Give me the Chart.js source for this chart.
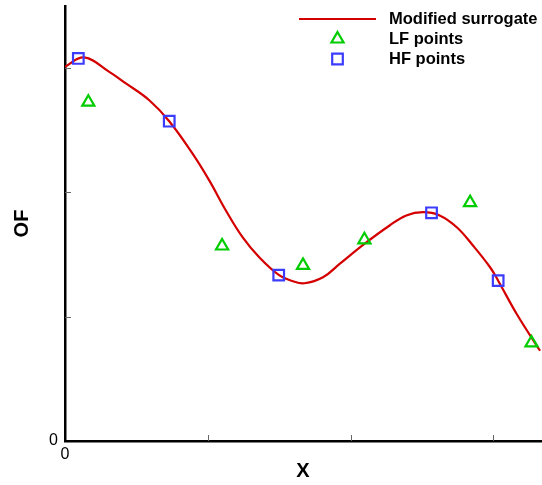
<!DOCTYPE html>
<html>
<head>
<meta charset="utf-8">
<script src="https://cdn.jsdelivr.net/npm/chart.js@4.4.1/dist/chart.umd.min.js"></script>
<style>
  html, body { margin: 0; padding: 0; background: #fff; }
  #chart { display: block; }
</style>
</head>
<body>
<canvas id="chart" width="542" height="485"></canvas>
<script>
// surrogate curve samples
const surrogateX = [0, 0.040, 0.093, 0.128, 0.177, 0.219, 0.268, 0.303, 0.338, 0.373, 0.408, 0.449, 0.479, 0.503, 0.542, 0.577, 0.629, 0.682, 0.717, 0.752, 0.787, 0.823, 0.857, 0.893, 0.910, 0.949, 0.998];
const surrogateY = [3.011, 3.086, 2.970, 2.877, 2.742, 2.573, 2.312, 2.097, 1.855, 1.640, 1.478, 1.336, 1.285, 1.269, 1.317, 1.425, 1.586, 1.734, 1.815, 1.841, 1.815, 1.720, 1.573, 1.398, 1.290, 1.022, 0.726];

// low fidelity samples
const lfX = [0.049, 0.330, 0.500, 0.629, 0.851, 0.980];
const lfY = [2.726, 1.569, 1.413, 1.619, 1.918, 0.789];

// high fidelity samples
const hfX = [0.028, 0.219, 0.449, 0.770, 0.910];
const hfY = [3.078, 2.573, 1.335, 1.836, 1.290];

const xTicks = [0, 0.3, 0.6, 0.9];
const yTicks = [0, 1, 2, 3];

const RED = '#d40000';
const GREEN = '#00cc00';
const BLUE = '#3c3cff';
const FONT = '"Liberation Sans", Arial, sans-serif';

const toPoints = (xs, ys) => xs.map((x, i) => ({ x: x, y: ys[i] }));

// short tick marks pointing into the plot
const innerTicks = {
    id: 'innerTicks',
    afterDraw(chart) {
        const { ctx, chartArea, scales } = chart;
        ctx.save();
        ctx.lineWidth = 1;
        ctx.strokeStyle = '#666';
        scales.x.ticks.forEach(t => {
            if (t.value === 0) return;
            const px = Math.round(scales.x.getPixelForValue(t.value)) + 0.5;
            ctx.beginPath();
            ctx.moveTo(px, chartArea.bottom);
            ctx.lineTo(px, chartArea.bottom - 6);
            ctx.stroke();
        });
        scales.y.ticks.forEach(t => {
            if (t.value === 0) return;
            const py = Math.round(scales.y.getPixelForValue(t.value)) + 0.5;
            ctx.beginPath();
            ctx.moveTo(chartArea.left, py);
            ctx.lineTo(chartArea.left + 6, py);
            ctx.stroke();
        });
        ctx.restore();
    }
};

function markerPath(ctx, style, x, y, r) {
    ctx.beginPath();
    if (style === 'triangle') {
        ctx.moveTo(x, y - r);
        ctx.lineTo(x + r * 0.866, y + r * 0.5);
        ctx.lineTo(x - r * 0.866, y + r * 0.5);
        ctx.closePath();
    } else {
        const h = r * Math.SQRT1_2;
        ctx.rect(x - h, y - h, 2 * h, 2 * h);
    }
}

// legend box in the upper right corner
const cornerLegend = {
    id: 'cornerLegend',
    afterDraw(chart) {
        const ctx = chart.ctx;
        const lineX1 = 299, lineX2 = 376, textX = 389;
        const rows = [19, 39, 59];
        ctx.save();
        ctx.font = 'bold 16.5px ' + FONT;
        ctx.textBaseline = 'middle';
        ctx.fillStyle = '#000';
        chart.data.datasets.forEach(ds => {
            const y = rows[ds.legendRow];
            const cx = (lineX1 + lineX2) / 2;
            ctx.strokeStyle = ds.borderColor;
            ctx.lineWidth = 2.2;
            if (ds.showLine) {
                ctx.beginPath();
                ctx.moveTo(lineX1, y);
                ctx.lineTo(lineX2, y);
                ctx.stroke();
            } else {
                markerPath(ctx, ds.pointStyle, cx, y, ds.pointRadius);
                ctx.stroke();
            }
            ctx.fillText(ds.label, textX, y);
        });
        ctx.restore();
    }
};

new Chart(document.getElementById('chart'), {
    type: 'scatter',
    data: {
        datasets: [
            {
                label: 'Modified surrogate',
                legendRow: 0,
                data: toPoints(surrogateX, surrogateY),
                showLine: true,
                tension: 0.4,
                borderColor: RED,
                borderWidth: 2.2,
                pointRadius: 0,
                order: 3
            },
            {
                label: 'LF points',
                legendRow: 1,
                data: toPoints(lfX, lfY),
                pointStyle: 'triangle',
                pointRadius: 7,
                borderColor: GREEN,
                backgroundColor: 'rgba(0,0,0,0)',
                pointBorderWidth: 2.2,
                order: 2
            },
            {
                label: 'HF points',
                legendRow: 2,
                data: toPoints(hfX, hfY),
                pointStyle: 'rect',
                pointRadius: 7.5,
                borderColor: BLUE,
                backgroundColor: 'rgba(0,0,0,0)',
                pointBorderWidth: 2.2,
                order: 1
            }
        ]
    },
    options: {
        responsive: false,
        animation: false,
        layout: { autoPadding: false, padding: { top: 6, right: 1, left: 0, bottom: 0 } },
        plugins: {
            legend: { display: false },
            tooltip: { enabled: false }
        },
        scales: {
            x: {
                type: 'linear',
                min: 0,
                max: 1,
                afterBuildTicks: scale => { scale.ticks = xTicks.map(v => ({ value: v })); },
                afterFit: scale => {
                    scale.height = 44;
                    scale.paddingLeft = 0;
                    scale.paddingRight = 0;
                },
                grid: { display: false, drawTicks: false },
                border: { display: true, color: '#000', width: 2.5 },
                ticks: {
                    padding: 4,
                    color: '#000',
                    font: { family: FONT, size: 16 },
                    callback: v => (v === 0 ? '0' : '')
                },
                title: {
                    display: true,
                    text: 'X',
                    color: '#000',
                    padding: { top: 0, bottom: 2 },
                    font: { family: FONT, size: 20, weight: 'bold' }
                }
            },
            y: {
                type: 'linear',
                min: 0,
                max: 3.5,
                afterBuildTicks: scale => { scale.ticks = yTicks.map(v => ({ value: v })); },
                afterFit: scale => {
                    scale.width = 65;
                    scale.paddingTop = 0;
                    scale.paddingBottom = 0;
                },
                grid: { display: false, drawTicks: false },
                border: { display: true, color: '#000', width: 2.5 },
                ticks: {
                    padding: 7,
                    color: '#000',
                    font: { family: FONT, size: 16 },
                    callback: v => (v === 0 ? '0' : '')
                },
                title: {
                    display: true,
                    text: 'OF',
                    color: '#000',
                    padding: { top: 10, bottom: 0 },
                    font: { family: FONT, size: 20, weight: 'bold' }
                }
            }
        }
    },
    plugins: [innerTicks, cornerLegend]
});
</script>
</body>
</html>
